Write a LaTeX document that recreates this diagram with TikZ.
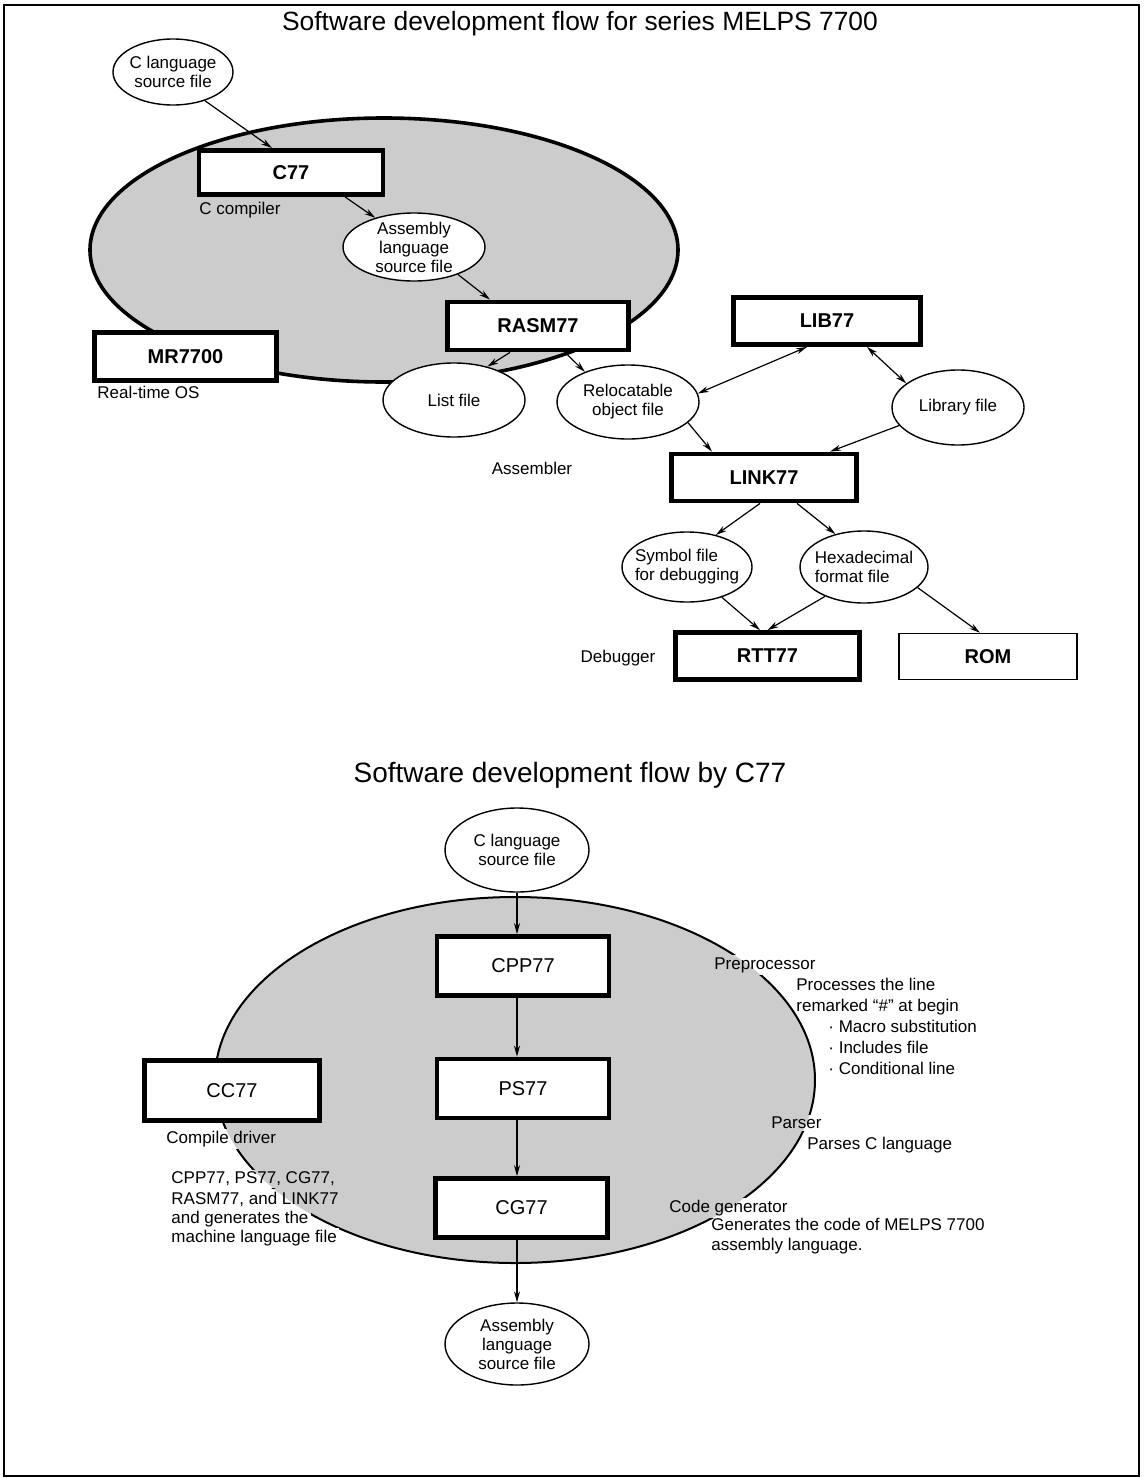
\documentclass[tikz,border=0pt]{standalone}
\usepackage{fontspec}
\setmainfont{Liberation Sans}
\usetikzlibrary{shapes.geometric,arrows.meta}

\definecolor{screen}{gray}{0.80}

\pgfdeclarelayer{back}
\pgfdeclarelayer{gap}
\pgfsetlayers{back,gap,main}

\tikzset{
  prog/.style={draw, line width=2.4pt, fill=white, minimum width=92pt,
    minimum height=23.5pt, font=\fontsize{10}{12}\selectfont\bfseries},
  pass/.style={draw, line width=2.4pt, fill=white, minimum width=86pt,
    minimum height=29.5pt, font=\fontsize{10}{12}\selectfont},
  datafile/.style={ellipse, draw, line width=0.7pt, fill=white, align=center,
    inner xsep=-6pt, inner ysep=-4pt, font=\fontsize{8.5}{9.5}\selectfont},
  note/.style={inner sep=1pt, font=\fontsize{8.5}{10}\selectfont},
  flow/.style={->, line width=0.6pt},
}

\begin{document}
\begin{tikzpicture}[x=0.5pt, y=-0.5pt, >={Stealth[length=5.5pt, width=3pt]}]
    \useasboundingbox (0,0) rectangle (1146,1478);
    \draw[line width=1.4pt] (4,5) rectangle (1139,1476);

    % TITLES
    \node[font=\fontsize{13.2}{16}\selectfont] (title1) at (580,24) {Software development flow for series MELPS 7700};
    \node[font=\fontsize{14}{17}\selectfont] (title2) at (570,775) {Software development flow by C77};

    % SHADED AREAS
    \begin{pgfonlayer}{back}
        \draw[line width=1.8pt, fill=screen] (384,250) ellipse [x radius=147pt, y radius=66pt];
        \draw[line width=1pt, fill=screen] (515,1080) ellipse [x radius=150pt, y radius=91.5pt];
    \end{pgfonlayer}

    % SERIES MELPS 7700
    \node[datafile, minimum width=60pt, minimum height=33pt] (csrc1) at (173,72) {C language\\source file};
    \node[prog, minimum height=22pt] (c77) at (291,172.5) {C77};
    \node[note, anchor=west] (ccomp) at (197,210) {C compiler};
    \node[datafile, minimum width=71pt, minimum height=34pt] (asm1) at (414,247) {Assembly\\language\\source file};
    \node[prog, minimum width=90.5pt, minimum height=24pt] (rasm) at (538,326) {RASM77};
    \node[prog, minimum width=91pt, minimum height=24pt] (mr) at (185.5,356.5) {MR7700};
    \node[note, anchor=west] (rtos) at (95,392) {Real-time OS};
    \node[datafile, minimum width=71pt, minimum height=37pt] (lst) at (454,400) {List file};
    \node[datafile, minimum width=71pt, minimum height=37pt] (reloc) at (628,402) {Relocatable\\object file};
    \node[note] (asmr) at (532,468) {Assembler};
    \node[prog, minimum width=93.5pt] (lib) at (827,321) {LIB77};
    \node[datafile, minimum width=66pt, minimum height=37.5pt] (libf) at (958,407.5) {Library file};
    \node[prog, minimum width=92.5pt] (link) at (764,477.5) {LINK77};
    \node[datafile, align=left, minimum width=65pt, minimum height=35pt] (sym) at (687,567) {Symbol file\\for debugging};
    \node[datafile, align=left, minimum width=64pt, minimum height=36pt] (hex) at (864,567) {Hexadecimal\\format file};
    \node[prog] (rtt) at (767.5,656) {RTT77};
    \node[note] (dbg) at (618,658) {Debugger};
    \node[prog, line width=0.8pt, minimum width=89pt, minimum height=23pt] (rom) at (988,656.5) {ROM};

    \draw[flow] (csrc1.-42) -- ([xshift=-9.5pt]c77.north);
    \draw[flow] ([xshift=27pt]c77.south) -- (asm1.143);
    \draw[flow] (asm1.-32) -- ([xshift=-24pt]rasm.north);
    \draw[flow] ([xshift=-14pt]rasm.south) -- (lst.45);
    \draw[flow] ([xshift=13.5pt]rasm.south) -- (reloc.145);
    \draw[flow, <->] ([xshift=-10pt]lib.south) -- (reloc.7);
    \draw[flow, <->] ([xshift=20pt]lib.south) -- (libf.155);
    \draw[flow] (reloc.-19) -- ([xshift=-26pt]link.north);
    \draw[flow] (libf.197) -- ([xshift=33pt]link.north);
    \draw[flow] ([xshift=-2pt]link.south) -- (sym.48);
    \draw[flow] ([xshift=16.5pt]link.south) -- (hex.131);
    \draw[flow] (sym.-41) -- ([xshift=-3.75pt]rtt.north);
    \draw[flow] (hex.217) -- (rtt.north);
    \draw[flow] (hex.-21) -- ([xshift=-4pt]rom.north);

    % BY C77
    \node[datafile, minimum width=72pt, minimum height=42pt] (csrc2) at (517,850) {C language\\source file};
    \node[pass] (cpp) at (523,966) {CPP77};
    \node[pass] (ps) at (523,1088.5) {PS77};
    \node[pass] (cg) at (521.5,1208) {CG77};
    \node[datafile, minimum width=72pt, minimum height=41pt] (asm2) at (517,1344) {Assembly\\language\\source file};
    \node[pass, minimum width=87.5pt, minimum height=30pt] (cc) at (232,1090.5) {CC77};

    \draw[flow] (csrc2.south) -- (csrc2.south |- cpp.north);
    \draw[flow] ([xshift=-3pt]cpp.south) -- ([xshift=-3pt]ps.north);
    \draw[flow] ([xshift=-3pt]ps.south) -- ([xshift=-2.25pt]cg.north);
    \draw[flow] ([xshift=-2.25pt]cg.south) -- (asm2.north);

    \node[note, anchor=west] (pp) at (712,965) {Preprocessor};
    \node[note, anchor=north west, align=left, font=\fontsize{8.5}{10.5}\selectfont] (ppdesc) at (794,976)
        {Processes the line\\remarked “\#” at begin\\\hspace*{16pt}· Macro substitution\\\hspace*{16pt}· Includes file\\\hspace*{16pt}· Conditional line};
    \node[note, anchor=west] (parser) at (769,1123) {Parser};
    \node[note, anchor=west] (parsedesc) at (805,1145) {Parses C language};
    \node[note, anchor=west] (codegen) at (667,1208) {Code generator};
    \node[note, anchor=north west, align=left] (cgdesc) at (709,1216) {Generates the code of MELPS 7700\\assembly language.};
    \node[note, anchor=west] (ccrole) at (164,1139) {Compile driver};
    \node[note, anchor=west] (ccline1) at (169,1179) {CPP77, PS77, CG77,};
    \node[note, anchor=west] (ccline2) at (169,1199) {RASM77, and LINK77};
    \node[note, anchor=west] (ccline3) at (169,1219) {and generates the};
    \node[note, anchor=west] (ccline4) at (169,1238) {machine language file};

    % outline stops where a label sits on it
    \begin{pgfonlayer}{gap}
        \foreach \n in {pp,parser,codegen,ccrole,ccline1,ccline2,ccline3,ccline4}
            \fill[white] (\n.south west) rectangle (\n.north east);
        \begin{scope}
            \clip (515,1080) ellipse [x radius=150pt, y radius=91.5pt];
            \foreach \n in {pp,parser,codegen,ccrole,ccline1,ccline2,ccline3,ccline4}
                \fill[screen] (\n.south west) rectangle (\n.north east);
        \end{scope}
    \end{pgfonlayer}
\end{tikzpicture}
\end{document}
